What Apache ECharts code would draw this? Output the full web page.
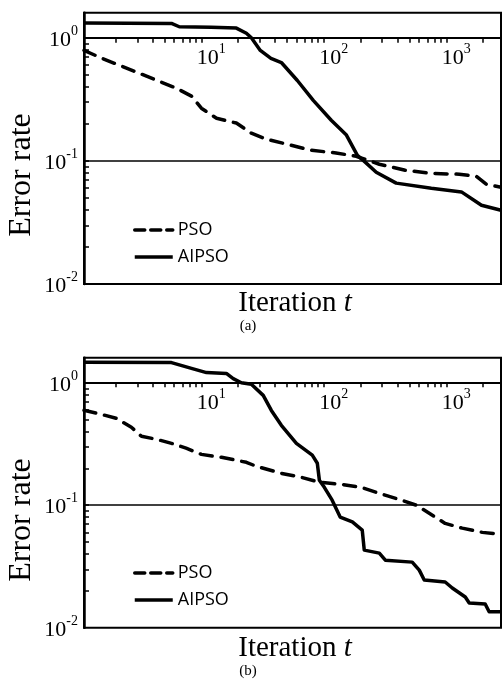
<!DOCTYPE html>
<html><head><meta charset="utf-8">
<script src="https://cdn.jsdelivr.net/npm/echarts@6/dist/echarts.min.js"></script>
<style>html,body{margin:0;padding:0;background:#fff}#c{width:502px;height:684px}</style>
</head><body><div id="c"></div>
<script>
// ---- data ----
const seriesNames = ['PSO', 'AIPSO'];
const panelLabels = ['(a)', '(b)'];
const xTicksMajor = [10, 100, 1000];
const yTicksMajor = [0.01, 0.1, 1];
const xTickValues = [2,3,4,5,6,7,8,9,10,20,30,40,50,60,70,80,90,100,200,300,400,500,600,700,800,900,1000,2000];
const yTickValues = [0.02,0.03,0.04,0.05,0.06,0.07,0.08,0.09,0.1,0.2,0.3,0.4,0.5,0.6,0.7,0.8,0.9,1];

const iterA_PSO = [1.1, 1.53, 2.22, 3.24, 4.7, 6.25, 8.3, 10, 13.3, 19.3, 25.6, 34, 49.4, 79, 126, 184, 284, 462, 769, 1277, 1757, 2125, 2800];
const errA_PSO  = [0.79, 0.684, 0.589, 0.507, 0.436, 0.39, 0.336, 0.268, 0.222, 0.203, 0.168, 0.15, 0.137, 0.122, 0.116, 0.109, 0.094, 0.084, 0.079, 0.078, 0.075, 0.0646, 0.061];

const iterA_AIPSO = [1.1, 5.7, 6.6, 12, 19.3, 23.3, 25.6, 30.3, 37, 45, 60.8, 82, 115, 153, 188, 210, 268, 390, 755, 1330, 1940, 2800];
const errA_AIPSO  = [1.32, 1.31, 1.23, 1.22, 1.2, 1.09, 1.0, 0.79, 0.68, 0.63, 0.45, 0.31, 0.214, 0.162, 0.111, 0.101, 0.081, 0.066, 0.06, 0.056, 0.0436, 0.0397];

const iterB_PSO = [1.1, 1.53, 2.02, 2.68, 3.24, 4.3, 5.7, 7.5, 10, 14.6, 23.3, 28, 45, 65.5, 92, 139, 202, 284, 430, 569, 726, 980, 1350, 1970, 2800];
const errB_PSO  = [0.595, 0.551, 0.512, 0.433, 0.365, 0.345, 0.32, 0.292, 0.26, 0.246, 0.224, 0.208, 0.182, 0.169, 0.154, 0.148, 0.14, 0.125, 0.11, 0.1, 0.086, 0.071, 0.065, 0.06, 0.058];

const iterB_AIPSO = [1.1, 5.7, 8.3, 11, 16, 18.2, 21.2, 25.6, 32, 37.3, 45, 59.7, 80.5, 88.5, 92, 101, 117, 136, 171, 206, 214, 284, 318, 527, 602, 661, 980, 1120, 1430, 1540, 2080, 2240, 2800];
const errB_AIPSO  = [1.47, 1.46, 1.31, 1.21, 1.19, 1.08, 1.0, 0.97, 0.788, 0.594, 0.449, 0.32, 0.256, 0.22, 0.16, 0.14, 0.11, 0.08, 0.073, 0.0626, 0.043, 0.0406, 0.0356, 0.0343, 0.0295, 0.0245, 0.0236, 0.0211, 0.0178, 0.0159, 0.0156, 0.0135, 0.0135];

// ---- chart ----
const zip = (xs, ys) => xs.map((x, i) => [x, ys[i]]);
const serif = '"Liberation Serif", "Times New Roman", serif';
const X_MIN = 1.1, X_MAX = 2800, Y_MIN = 0.01, Y_MAX = 1.6;

const supFmt = v => {
  const e = Math.round(Math.log10(v));
  return '{b|10}{s|' + e + '}';
};
const rich = {
  b: {fontFamily: serif, fontSize: 22, color: '#000', lineHeight: 27, verticalAlign: 'bottom'},
  s: {fontFamily: serif, fontSize: 14, color: '#000', lineHeight: 14, verticalAlign: 'top'}
};

const panels = [
  {top: 12.7, height: 271.3, offset: -25, legendTop: 216},
  {top: 357.7, height: 270, offset: -24.6, legendTop: 559}
];

const grids = panels.map(p => ({
  left: 84, width: 417, top: p.top, height: p.height,
  show: true, borderColor: '#000', borderWidth: 2, backgroundColor: 'transparent'
}));

const xAxes = panels.map((p, i) => ({
  type: 'log', logBase: 10, gridIndex: i, min: X_MIN, max: X_MAX,
  position: 'top', offset: p.offset,
  axisLine: {show: true, onZero: false, lineStyle: {color: '#000', width: 2}},
  axisTick: {show: true, inside: true, length: 5, customValues: xTickValues, lineStyle: {color: '#000', width: 1.5}},
  axisLabel: {show: true, inside: true, margin: 5, customValues: xTicksMajor, formatter: supFmt, rich: rich, padding: [0, 0, 0, 20]},
  splitLine: {show: false}, minorTick: {show: false}
}));

const yAxes = panels.map((p, i) => ({
  type: 'log', logBase: 10, gridIndex: i, min: Y_MIN, max: Y_MAX,
  axisLine: {show: true, onZero: false, lineStyle: {color: '#000', width: 2.5}},
  axisTick: {show: true, inside: true, length: 5, customValues: yTickValues, lineStyle: {color: '#000', width: 1.5}},
  axisLabel: {show: true, margin: 6, customValues: yTicksMajor, formatter: supFmt, rich: rich},
  splitLine: {show: false}, minorTick: {show: false}
}));

const dashStyle = {color: '#000', width: 3.5, type: [12, 9], cap: 'round'};
const solidStyle = {color: '#000', width: 3.5, type: 'solid', join: 'round'};
const legendDash = {color: '#000', width: 3.5, type: [10, 6], cap: 'round'};

const mk = (name, idx, data, style, withMark) => {
  const s = {
    name: name, type: 'line', xAxisIndex: idx, yAxisIndex: idx,
    data: data, showSymbol: false, symbol: 'none',
    lineStyle: style, itemStyle: {color: '#000'}, animation: false, z: 3
  };
  if (withMark) {
    s.markLine = {
      silent: true, symbol: ['none', 'none'], animation: false,
      label: {show: false},
      lineStyle: {color: '#000', width: 1.5, type: 'solid'},
      data: [{yAxis: 0.1}]
    };
  }
  return s;
};

const series = [
  mk(seriesNames[0], 0, zip(iterA_PSO, errA_PSO), dashStyle, true),
  mk(seriesNames[1], 0, zip(iterA_AIPSO, errA_AIPSO), solidStyle, false),
  mk(seriesNames[0], 1, zip(iterB_PSO, errB_PSO), dashStyle, true),
  mk(seriesNames[1], 1, zip(iterB_AIPSO, errB_AIPSO), solidStyle, false)
];

const legendStyles = [legendDash, solidStyle];
const legends = panels.map(p => ({
  orient: 'vertical', left: 128, top: p.legendTop,
  data: seriesNames.map((n, k) => ({
    name: n,
    itemStyle: {opacity: 0},
    lineStyle: Object.assign({}, legendStyles[k], {width: 3.5})
  })),
  itemWidth: 38, itemHeight: 14, itemGap: 9, selectedMode: false,
  textStyle: {fontFamily: '"Open Sans", sans-serif', fontSize: 18, color: '#000'}
}));

const graphics = [];
panels.forEach((p, i) => {
  const dy = p.top - 12.7;
  graphics.push({
    type: 'text', x: 22, y: 175 + dy, rotation: Math.PI / 2,
    style: {text: 'Error rate', font: '32px ' + serif, fill: '#000', textAlign: 'center', textVerticalAlign: 'middle'}
  });
  graphics.push({
    type: 'text', x: 295, y: 303 + dy,
    style: {
      text: '{n|Iteration }{i|t}', fill: '#000', textAlign: 'center', textVerticalAlign: 'middle',
      rich: {
        n: {fontFamily: serif, fontSize: 29, fill: '#000'},
        i: {fontFamily: serif, fontSize: 29, fontStyle: 'italic', fill: '#000'}
      }
    }
  });
  graphics.push({
    type: 'text', x: 248, y: 326 + dy,
    style: {text: panelLabels[i], font: '15px ' + serif, fill: '#000', textAlign: 'center', textVerticalAlign: 'middle'}
  });
});

const chart = echarts.init(document.getElementById('c'));
chart.setOption({
  backgroundColor: '#fff',
  animation: false,
  grid: grids,
  xAxis: xAxes,
  yAxis: yAxes,
  legend: legends,
  series: series,
  graphic: graphics
});
</script>
</body></html>
